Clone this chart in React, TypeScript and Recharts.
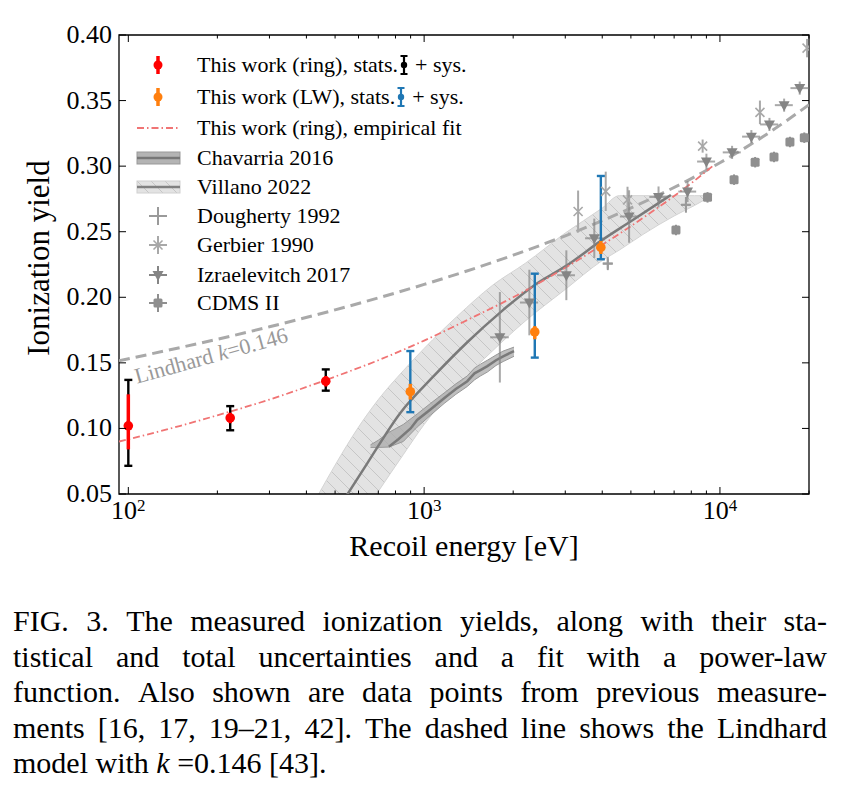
import React from 'react';
import {
  ComposedChart, Line, Area, Scatter, XAxis, YAxis, ErrorBar,
  ReferenceArea, ReferenceDot, Label,
} from 'recharts';

const FONT = "'Liberation Serif', 'Times New Roman', serif";

// ---------- axes ----------
const xDomain = [93, 20000];
const yDomain = [0.05, 0.4];
const xMajorTicks = [100, 1000, 10000];
const xMajorExponents = ['2', '3', '4'];
const xMinorTicks = [200, 300, 400, 500, 600, 700, 800, 900, 2000, 3000, 4000, 5000, 6000, 7000, 8000, 9000, 20000];
const yTicks = [0.05, 0.1, 0.15, 0.2, 0.25, 0.3, 0.35, 0.4];
const yTickLabels = ['0.05', '0.10', '0.15', '0.20', '0.25', '0.30', '0.35', '0.40'];

// ---------- This work (ring) ----------
const ringEnergy = [100, 221, 465];
const ringYield = [0.102, 0.108, 0.136];
const ringStatLow = [0.084, 0.104, 0.132];
const ringStatHigh = [0.126, 0.112, 0.14];
const ringTotLow = [0.0715, 0.0986, 0.1288];
const ringTotHigh = [0.137, 0.117, 0.145];

// ---------- This work (LW) ----------
const lwEnergy = [898, 2366, 3957];
const lwYield = [0.128, 0.1736, 0.238];
const lwStatLow = [0.122, 0.168, 0.233];
const lwStatHigh = [0.134, 0.178, 0.243];
const lwTotLow = [0.1124, 0.154, 0.229];
const lwTotHigh = [0.159, 0.218, 0.2925];

// ---------- empirical fit (ring) ----------
const fitEnergy = [93, 150, 200, 300, 500, 700, 1000, 1500, 2000, 3000, 4000, 6000, 8000, 9500];
const fitYield = [0.09, 0.102, 0.11, 0.122, 0.1395, 0.152, 0.167, 0.186, 0.2, 0.2225, 0.24, 0.2665, 0.287, 0.3005];

// ---------- Lindhard k=0.146 ----------
const lindE = [93, 150, 200, 300, 500, 700, 1000, 1500, 2000, 3000, 4000, 6000, 8000, 10000, 14000, 20000];
const lindY = [0.1516, 0.1617, 0.168, 0.1775, 0.1904, 0.1995, 0.2098, 0.2224, 0.2321, 0.2469, 0.2584, 0.2764, 0.2905, 0.3026, 0.3226, 0.3468];

// ---------- Villano 2022 ----------
const villLineE = [530, 643, 832, 1079, 1399, 1814, 2352, 3048, 3957, 5000, 5842, 6825];
const villLineY = [0.044, 0.0736, 0.112, 0.14, 0.1657, 0.1887, 0.209, 0.2245, 0.243, 0.258, 0.268, 0.278];
const villBandE = [440, 500, 600, 700, 850, 1000, 1300, 1700, 2200, 3000, 4000, 4570, 5500, 7000, 8200, 9400];
const villBandLow = [0.0, 0.0, 0.029, 0.052, 0.08, 0.103, 0.133, 0.159, 0.182, 0.206, 0.228, 0.236, 0.248, 0.262, 0.27, 0.2775];
const villBandHigh = [0.05, 0.072, 0.101, 0.122, 0.144, 0.161, 0.186, 0.209, 0.226, 0.249, 0.268, 0.2775, 0.2775, 0.2775, 0.2775, 0.2775];

// ---------- Chavarria 2016 ----------
const chavLineE = [760, 820, 900, 947, 1050, 1168, 1280, 1399, 1480, 1550, 1636, 1750, 1850, 2013];
const chavLineY = [0.086, 0.092, 0.1, 0.1065, 0.1145, 0.123, 0.13, 0.136, 0.142, 0.1445, 0.1475, 0.152, 0.155, 0.159];
const chavBandE = [659, 700, 760, 850, 947, 1050, 1168, 1280, 1399, 1480, 1550, 1636, 1750, 1850, 2013];
const chavBandLow = [0.0855, 0.0855, 0.0858, 0.09, 0.101, 0.11, 0.119, 0.126, 0.132, 0.137, 0.14, 0.143, 0.148, 0.151, 0.155];
const chavBandHigh = [0.0875, 0.091, 0.097, 0.103, 0.111, 0.119, 0.127, 0.134, 0.14, 0.146, 0.149, 0.152, 0.156, 0.159, 0.162];

// ---------- previous measurements ----------
const doughertyE = [4177, 7674];
const doughertyY = [0.2257, 0.2705];
const doughertyYErr = [0.005, 0.006];
const doughertyXErr = [160, 260];

const gerbierE = [3315, 4110, 4870, 8739, 13650, 19700];
const gerbierY = [0.2654, 0.2808, 0.2743, 0.3153, 0.341, 0.39];
const gerbierYErr = [0.016, 0.015, 0.01, 0.005, 0.009, 0.007];

const izraE = [1803, 2268, 3025, 3760, 4930, 6200, 7770, 9000, 10990, 12770, 14700, 16480, 18610];
const izraY = [0.1695, 0.196, 0.2168, 0.245, 0.2616, 0.2765, 0.2806, 0.3035, 0.3105, 0.3225, 0.3318, 0.3465, 0.3595];
const izraYErr = [0.0345, 0.025, 0.019, 0.015, 0.02, 0.008, 0.008, 0.006, 0.005, 0.005, 0.005, 0.005, 0.005];
const izraXErr = [130, 160, 210, 260, 340, 430, 540, 630, 770, 890, 1030, 1150, 1300];

const cdmsE = [7100, 9078, 11160, 13150, 15230, 17240, 19280];
const cdmsY = [0.2513, 0.2762, 0.2897, 0.303, 0.307, 0.3184, 0.3217];
const cdmsYErr = [0.004, 0.004, 0.004, 0.004, 0.004, 0.004, 0.004];

const legendLabels = [
  'This work (ring), stats.',
  'This work (LW), stats.',
  'This work (ring), empirical fit',
  'Chavarria 2016',
  'Villano 2022',
  'Dougherty 1992',
  'Gerbier 1990',
  'Izraelevitch 2017',
  'CDMS II',
];

const captionLines = [
  'FIG. 3. The measured ionization yields, along with their sta-',
  'tistical and total uncertainties and a fit with a power-law',
  'function. Also shown are data points from previous measure-',
  'ments [16, 17, 19–21, 42]. The dashed line shows the Lindhard',
];

// ---------- layout ----------
const CHART_W = 851;
const CHART_H = 570;
const PLOT_LEFT = 119;
const PLOT_TOP = 35;
const PLOT_RIGHT = 809;
const PLOT_BOTTOM = 494;

// ---------- derived tables ----------
const ringData = ringEnergy.map((E, i) => ({
  E, Y: ringYield[i],
  stat: [ringYield[i] - ringStatLow[i], ringStatHigh[i] - ringYield[i]],
  tot: [ringYield[i] - ringTotLow[i], ringTotHigh[i] - ringYield[i]],
}));
const lwData = lwEnergy.map((E, i) => ({
  E, Y: lwYield[i],
  stat: [lwYield[i] - lwStatLow[i], lwStatHigh[i] - lwYield[i]],
  tot: [lwYield[i] - lwTotLow[i], lwTotHigh[i] - lwYield[i]],
}));
const fitData = fitEnergy.map((E, i) => ({ E, Y: fitYield[i] }));
const lindData = lindE.map((E, i) => ({ E, Y: lindY[i] }));
const villLine = villLineE.map((E, i) => ({ E, Y: villLineY[i] }));
const villBand = villBandE.map((E, i) => ({ E, band: [villBandLow[i], villBandHigh[i]] }));
const chavLine = chavLineE.map((E, i) => ({ E, Y: chavLineY[i] }));
const chavBand = chavBandE.map((E, i) => ({ E, band: [chavBandLow[i], chavBandHigh[i]] }));
const doughertyData = doughertyE.map((E, i) => ({ E, Y: doughertyY[i], ey: doughertyYErr[i], ex: doughertyXErr[i] }));
const gerbierData = gerbierE.map((E, i) => ({ E, Y: gerbierY[i], ey: gerbierYErr[i] }));
const izraData = izraE.map((E, i) => ({ E, Y: izraY[i], ey: izraYErr[i], ex: izraXErr[i] }));
const cdmsData = cdmsE.map((E, i) => ({ E, Y: cdmsY[i], ey: cdmsYErr[i] }));

// ---------- colours ----------
const RED = '#ff0000';
const ORANGE = '#ff7f0e';
const BLUE = '#1f77b4';
const FIT = '#f07474';
const LIND = '#a9a9a9';
const C_DOUG = '#9a9a9a';
const C_GERB = '#a8a8a8';
const C_IZRA = '#858585';
const C_CDMS = '#8f8f8f';

// ---------- marker shapes ----------
const plusMark = (cx: number, cy: number, c: string) => (
  <g stroke={c} strokeWidth={2}>
    <line x1={cx - 5} x2={cx + 5} y1={cy} y2={cy} />
    <line x1={cx} x2={cx} y1={cy - 5} y2={cy + 5} />
  </g>
);
const xMark = (cx: number, cy: number, c: string) => (
  <g stroke={c} strokeWidth={1.6}>
    <line x1={cx - 4.5} x2={cx + 4.5} y1={cy - 4.5} y2={cy + 4.5} />
    <line x1={cx - 4.5} x2={cx + 4.5} y1={cy + 4.5} y2={cy - 4.5} />
  </g>
);
const triMark = (cx: number, cy: number, c: string) => (
  <polygon points={`${cx - 5.5},${cy - 4} ${cx + 5.5},${cy - 4} ${cx},${cy + 6}`} fill={c} />
);
const sqMark = (cx: number, cy: number, c: string) => (
  <rect x={cx - 4.5} y={cy - 4.5} width={9} height={9} rx={1.5} fill={c} />
);

function XTick(props: any) {
  const { x, payload } = props;
  const idx = xMajorTicks.indexOf(payload.value);
  const major = idx >= 0;
  const len = major ? 7 : 3.5;
  return (
    <g>
      <line x1={x} x2={x} y1={PLOT_BOTTOM} y2={PLOT_BOTTOM - len} stroke="#000" strokeWidth={1} />
      <line x1={x} x2={x} y1={PLOT_TOP} y2={PLOT_TOP + len} stroke="#000" strokeWidth={1} />
      {major && (
        <text x={x} y={PLOT_BOTTOM + 25} textAnchor="middle" fontFamily={FONT} fontSize={26} fill="#000">
          10<tspan dy={-8} fontSize={17}>{xMajorExponents[idx]}</tspan>
        </text>
      )}
    </g>
  );
}

function YTick(props: any) {
  const { y, payload } = props;
  const idx = yTicks.findIndex((t) => Math.abs(t - payload.value) < 1e-9);
  return (
    <g>
      <line x1={PLOT_LEFT} x2={PLOT_LEFT + 7} y1={y} y2={y} stroke="#000" strokeWidth={1} />
      <line x1={PLOT_RIGHT} x2={PLOT_RIGHT - 7} y1={y} y2={y} stroke="#000" strokeWidth={1} />
      <text x={PLOT_LEFT - 7} y={y + 8} textAnchor="end" fontFamily={FONT} fontSize={26} fill="#000">
        {yTickLabels[idx]}
      </text>
    </g>
  );
}

function HatchDefs({ id }: { id: string }) {
  return (
    <defs>
      <pattern id={id} patternUnits="userSpaceOnUse" width={14} height={14}>
        <rect width={14} height={14} fill="#e3e3e3" />
        <path d="M0,0 L14,14 M-7,7 L7,21 M7,-7 L21,7" stroke="#c6c6c6" strokeWidth={1} />
      </pattern>
    </defs>
  );
}

function LegendHandle({ i }: { i: number }) {
  const cx = 30, cy = 15;
  switch (i) {
    case 0:
    case 1: {
      const c = i === 0 ? RED : ORANGE;
      return (
        <g>
          <line x1={cx} x2={cx} y1={cy - 9} y2={cy + 9} stroke={c} strokeWidth={3.5} />
          <circle cx={cx} cy={cy} r={4.5} fill={c} />
        </g>
      );
    }
    case 2:
      return <line x1={9} x2={52} y1={cy} y2={cy} stroke={FIT} strokeWidth={1.8} strokeDasharray="7 3 1.5 3" />;
    case 3:
      return (
        <g>
          <rect x={9} y={9} width={43} height={12} fill="#b4b4b4" stroke="#999" strokeWidth={1} />
          <line x1={9} x2={52} y1={cy} y2={cy} stroke="#777" strokeWidth={2.5} />
        </g>
      );
    case 4:
      return (
        <g>
          <HatchDefs id="hatchLegend" />
          <rect x={9} y={9} width={43} height={12} fill="url(#hatchLegend)" stroke="#d0d0d0" strokeWidth={1} />
          <line x1={9} x2={52} y1={cy} y2={cy} stroke="#808080" strokeWidth={2.5} />
        </g>
      );
    default: {
      const cols = [C_DOUG, C_GERB, C_IZRA, C_CDMS];
      const c = cols[i - 5];
      const marks = [plusMark, xMark, triMark, sqMark];
      return (
        <g>
          <line x1={cx} x2={cx} y1={cy - 9} y2={cy + 9} stroke={c} strokeWidth={2} />
          <line x1={cx - 9} x2={cx + 9} y1={cy} y2={cy} stroke={c} strokeWidth={2} />
          {marks[i - 5](cx, cy, c)}
        </g>
      );
    }
  }
}

function ErrGlyph({ color }: { color: string }) {
  return (
    <svg width={12} height={30} style={{ display: 'block' }}>
      <line x1={6} x2={6} y1={6} y2={24} stroke={color} strokeWidth={2.2} />
      <line x1={2.5} x2={9.5} y1={6} y2={6} stroke={color} strokeWidth={2} />
      <line x1={2.5} x2={9.5} y1={24} y2={24} stroke={color} strokeWidth={2} />
      <circle cx={6} cy={15} r={3.2} fill={color} />
    </svg>
  );
}

const legendRowCenters = [65, 97, 128, 158, 187, 216, 245, 275, 303];

function Legend() {
  return (
    <>
      {legendLabels.map((lab, i) => (
        <div
          key={lab}
          style={{
            position: 'absolute', left: 128, top: legendRowCenters[i] - 15, height: 30,
            display: 'flex', alignItems: 'center', fontFamily: FONT, fontSize: 22,
            whiteSpace: 'nowrap', color: '#000', lineHeight: 1,
          }}
        >
          <svg width={60} height={30} style={{ display: 'block' }}>
            <LegendHandle i={i} />
          </svg>
          <span style={{ marginLeft: 9 }}>{lab}</span>
          {i < 2 && (
            <>
              <ErrGlyph color={i === 0 ? '#000' : BLUE} />
              <span style={{ marginLeft: 5 }}>+ sys.</span>
            </>
          )}
        </div>
      ))}
    </>
  );
}

function Caption() {
  return (
    <div style={{ position: 'absolute', left: 13, top: 603, width: 814, fontFamily: FONT, fontSize: 30, color: '#000' }}>
      {captionLines.map((ln, i) => (
        <div key={i} style={{ display: 'flex', justifyContent: 'space-between', height: 35.5, lineHeight: '35.5px', whiteSpace: 'nowrap' }}>
          {ln.split(' ').map((w, j) => <span key={j}>{w}</span>)}
        </div>
      ))}
      <div style={{ height: 35.5, lineHeight: '35.5px', whiteSpace: 'nowrap' }}>
        model with <i>k</i> =0.146 [43].
      </div>
    </div>
  );
}

export default function App() {
  return (
    <div style={{ position: 'absolute', left: 0, top: 0, width: 851, height: 790, background: '#fff' }}>
      <ComposedChart
        width={CHART_W}
        height={CHART_H}
        margin={{ top: PLOT_TOP, right: CHART_W - PLOT_RIGHT, bottom: CHART_H - PLOT_BOTTOM - 30, left: PLOT_LEFT - 60 }}
      >
        <HatchDefs id="hatchPlot" />
        <XAxis
          dataKey="E" type="number" scale="log" domain={xDomain} allowDataOverflow
          ticks={[...xMajorTicks, ...xMinorTicks]} interval={0} tick={<XTick />}
          tickLine={false} axisLine={false} tickSize={0} tickMargin={0} height={30}
        >
          <Label
            content={() => (
              <text x={(PLOT_LEFT + PLOT_RIGHT) / 2} y={556} textAnchor="middle" fontFamily={FONT} fontSize={30} fill="#000">
                Recoil energy [eV]
              </text>
            )}
          />
        </XAxis>
        <YAxis
          type="number" domain={yDomain} allowDataOverflow ticks={yTicks} interval={0}
          tick={<YTick />} tickLine={false} axisLine={false} width={60}
        >
          <Label
            content={() => (
              <text x={49} y={258} transform="rotate(-90 49 258)" textAnchor="middle" fontFamily={FONT} fontSize={31} fill="#000">
                Ionization yield
              </text>
            )}
          />
        </YAxis>

        <Area data={villBand} dataKey="band" type="monotone" fill="url(#hatchPlot)" fillOpacity={1}
          stroke="#d4d4d4" strokeWidth={1} isAnimationActive={false} />
        <Line data={villLine} dataKey="Y" type="monotone" stroke="#7a7a7a" strokeWidth={2.5} dot={false}
          isAnimationActive={false} />
        <Area data={chavBand} dataKey="band" type="linear" fill="#a9a9a9" fillOpacity={0.75}
          stroke="#999" strokeWidth={1} isAnimationActive={false} />
        <Line data={chavLine} dataKey="Y" type="linear" stroke="#7a7a7a" strokeWidth={2.5} dot={false}
          isAnimationActive={false} />
        <Line data={lindData} dataKey="Y" type="monotone" stroke={LIND} strokeWidth={3} strokeDasharray="11 6"
          dot={false} isAnimationActive={false} />
        <Line data={fitData} dataKey="Y" type="monotone" stroke={FIT} strokeWidth={1.8}
          strokeDasharray="7 3 1.5 3" dot={false} isAnimationActive={false} />

        <Scatter data={doughertyData} dataKey="Y" isAnimationActive={false}
          shape={(p: any) => plusMark(p.cx, p.cy, C_DOUG)}>
          <ErrorBar dataKey="ey" direction="y" width={0} stroke={C_DOUG} strokeWidth={2} isAnimationActive={false} />
          <ErrorBar dataKey="ex" direction="x" width={0} stroke={C_DOUG} strokeWidth={2} isAnimationActive={false} />
        </Scatter>
        <Scatter data={gerbierData} dataKey="Y" isAnimationActive={false}
          shape={(p: any) => xMark(p.cx, p.cy, C_GERB)}>
          <ErrorBar dataKey="ey" direction="y" width={0} stroke={C_GERB} strokeWidth={2} isAnimationActive={false} />
        </Scatter>
        <Scatter data={izraData} dataKey="Y" isAnimationActive={false}
          shape={(p: any) => triMark(p.cx, p.cy, C_IZRA)}>
          <ErrorBar dataKey="ey" direction="y" width={0} stroke={C_IZRA} strokeOpacity={0.7} strokeWidth={2} isAnimationActive={false} />
          <ErrorBar dataKey="ex" direction="x" width={0} stroke={C_IZRA} strokeOpacity={0.7} strokeWidth={2} isAnimationActive={false} />
        </Scatter>
        <Scatter data={cdmsData} dataKey="Y" isAnimationActive={false}
          shape={(p: any) => sqMark(p.cx, p.cy, C_CDMS)}>
          <ErrorBar dataKey="ey" direction="y" width={0} stroke={C_CDMS} strokeWidth={2} isAnimationActive={false} />
        </Scatter>

        <Scatter data={ringData} dataKey="Y" isAnimationActive={false}
          shape={(p: any) => <circle cx={p.cx} cy={p.cy} r={4.8} fill={RED} />}>
          <ErrorBar dataKey="tot" direction="y" width={4} stroke="#000" strokeWidth={2.4} isAnimationActive={false} />
          <ErrorBar dataKey="stat" direction="y" width={0} stroke={RED} strokeWidth={3.5} isAnimationActive={false} />
        </Scatter>
        <Scatter data={lwData} dataKey="Y" isAnimationActive={false}
          shape={(p: any) => <circle cx={p.cx} cy={p.cy} r={4.8} fill={ORANGE} />}>
          <ErrorBar dataKey="tot" direction="y" width={4} stroke={BLUE} strokeWidth={2.4} isAnimationActive={false} />
          <ErrorBar dataKey="stat" direction="y" width={0} stroke={ORANGE} strokeWidth={3.5} isAnimationActive={false} />
        </Scatter>

        <ReferenceDot
          x={107} y={0.134} r={0} ifOverflow="visible"
          shape={(p: any) => (
            <text x={p.cx} y={p.cy} transform={`rotate(-15.5 ${p.cx} ${p.cy})`} fontFamily={FONT} fontSize={22} fill="#999">
              Lindhard <tspan fontStyle="italic">k</tspan>=0.146
            </text>
          )}
        />
        <ReferenceArea x1={xDomain[0]} x2={xDomain[1]} y1={yDomain[0]} y2={yDomain[1]} fill="none"
          stroke="#000" strokeWidth={1.3} ifOverflow="visible" />
      </ComposedChart>
      <Legend />
      <Caption />
    </div>
  );
}
